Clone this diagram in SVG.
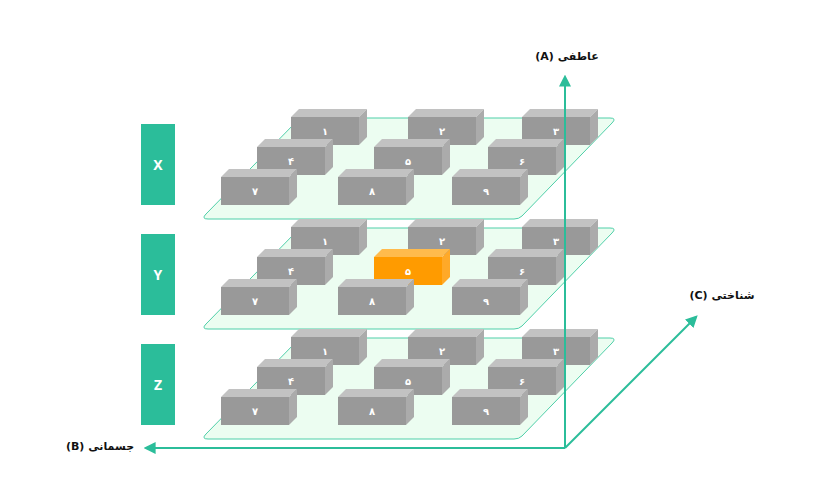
<svg xmlns="http://www.w3.org/2000/svg" xmlns:xlink="http://www.w3.org/1999/xlink" width="833" height="490" viewBox="0 0 833 490">
<style>
.plane{fill:#ecfdf1;stroke:#4fcfa9;stroke-width:1}
.num{font-family:"DejaVu Sans",sans-serif;font-size:10px;font-weight:bold;fill:#ffffff;text-anchor:middle}
.side rect{fill:#2bbd9a}
.side text{font-family:"Noto Sans",sans-serif;font-size:14px;font-weight:bold;fill:#ffffff;text-anchor:middle}
.axis{stroke:#2bbd9a;stroke-width:2;fill:none}
.lbl{font-family:"DejaVu Sans",sans-serif;font-size:11px;font-weight:bold;fill:#111111;text-anchor:middle}
</style>
<defs>
<g id="box">
<polygon points="0,0 8,-8 76,-8 68,0" fill="#c2c2c2"/>
<polygon points="68,0 76,-8 76,20 68,28" fill="#ababab"/>
<rect x="0" y="0" width="68" height="28" fill="#999999"/>
</g>
<g id="obox">
<polygon points="0,0 8,-8 76,-8 68,0" fill="#ffbb4d"/>
<polygon points="68,0 76,-8 76,20 68,28" fill="#ffa928"/>
<rect x="0" y="0" width="68" height="28" fill="#ff9b00"/>
</g>
<path id="pl" d="M306,118 L610,118 Q617,118 612,123 L522,216 Q519,219 514,219 L208,219 Q201,219 206,214 L297,121 Q300,118 306,118 Z"/>
<marker id="ah" viewBox="0 0 10 10" refX="8" refY="5" markerWidth="6" markerHeight="6" orient="auto-start-reverse" markerUnits="strokeWidth">
<path d="M0,0 L10,5 L0,10 Z" fill="#2bbd9a"/>
</marker>
</defs>

<g id="labels-side" class="side">
<g id="side-X"><rect x="141" y="124" width="34" height="81"/><text x="158" y="170">X</text></g>
<g id="side-Y"><rect x="141" y="234" width="34" height="81"/><text x="158" y="280">Y</text></g>
<g id="side-Z"><rect x="141" y="344" width="34" height="81"/><text x="158" y="390">Z</text></g>
</g>

<g id="plane-X">
<use xlink:href="#pl" class="plane"/>
<g id="X1"><use xlink:href="#box" x="291" y="117"/><text class="num" x="325" y="135">۱</text></g>
<g id="X2"><use xlink:href="#box" x="408" y="117"/><text class="num" x="442" y="135">۲</text></g>
<g id="X3"><use xlink:href="#box" x="522" y="117"/><text class="num" x="556" y="135">۳</text></g>
<g id="X4"><use xlink:href="#box" x="257" y="147"/><text class="num" x="291" y="165">۴</text></g>
<g id="X5"><use xlink:href="#box" x="374" y="147"/><text class="num" x="408" y="165">۵</text></g>
<g id="X6"><use xlink:href="#box" x="488" y="147"/><text class="num" x="522" y="165">۶</text></g>
<g id="X7"><use xlink:href="#box" x="221" y="177"/><text class="num" x="255" y="195">۷</text></g>
<g id="X8"><use xlink:href="#box" x="338" y="177"/><text class="num" x="372" y="195">۸</text></g>
<g id="X9"><use xlink:href="#box" x="452" y="177"/><text class="num" x="486" y="195">۹</text></g>
</g>

<g id="plane-Y">
<use xlink:href="#pl" class="plane" y="110"/>
<g id="Y1"><use xlink:href="#box" x="291" y="227"/><text class="num" x="325" y="245">۱</text></g>
<g id="Y2"><use xlink:href="#box" x="408" y="227"/><text class="num" x="442" y="245">۲</text></g>
<g id="Y3"><use xlink:href="#box" x="522" y="227"/><text class="num" x="556" y="245">۳</text></g>
<g id="Y4"><use xlink:href="#box" x="257" y="257"/><text class="num" x="291" y="275">۴</text></g>
<g id="Y5"><use xlink:href="#obox" x="374" y="257"/><text class="num" x="408" y="275">۵</text></g>
<g id="Y6"><use xlink:href="#box" x="488" y="257"/><text class="num" x="522" y="275">۶</text></g>
<g id="Y7"><use xlink:href="#box" x="221" y="287"/><text class="num" x="255" y="305">۷</text></g>
<g id="Y8"><use xlink:href="#box" x="338" y="287"/><text class="num" x="372" y="305">۸</text></g>
<g id="Y9"><use xlink:href="#box" x="452" y="287"/><text class="num" x="486" y="305">۹</text></g>
</g>

<g id="plane-Z">
<use xlink:href="#pl" class="plane" y="220"/>
<g id="Z1"><use xlink:href="#box" x="291" y="337"/><text class="num" x="325" y="355">۱</text></g>
<g id="Z2"><use xlink:href="#box" x="408" y="337"/><text class="num" x="442" y="355">۲</text></g>
<g id="Z3"><use xlink:href="#box" x="522" y="337"/><text class="num" x="556" y="355">۳</text></g>
<g id="Z4"><use xlink:href="#box" x="257" y="367"/><text class="num" x="291" y="385">۴</text></g>
<g id="Z5"><use xlink:href="#box" x="374" y="367"/><text class="num" x="408" y="385">۵</text></g>
<g id="Z6"><use xlink:href="#box" x="488" y="367"/><text class="num" x="522" y="385">۶</text></g>
<g id="Z7"><use xlink:href="#box" x="221" y="397"/><text class="num" x="255" y="415">۷</text></g>
<g id="Z8"><use xlink:href="#box" x="338" y="397"/><text class="num" x="372" y="415">۸</text></g>
<g id="Z9"><use xlink:href="#box" x="452" y="397"/><text class="num" x="486" y="415">۹</text></g>
</g>

<g id="connectors">
<line class="axis" x1="565" y1="448" x2="565" y2="77" marker-end="url(#ah)"/>
<line class="axis" x1="565" y1="448" x2="146" y2="448" marker-end="url(#ah)"/>
<line class="axis" x1="565" y1="448" x2="696" y2="317" marker-end="url(#ah)"/>
</g>

<g id="axis-labels">
<text class="lbl" x="567" y="60">(A) عاطفی</text>
<text class="lbl" x="722" y="299">(C) شناختی</text>
<text class="lbl" x="100" y="450">(B) جسمانی</text>
</g>
</svg>
